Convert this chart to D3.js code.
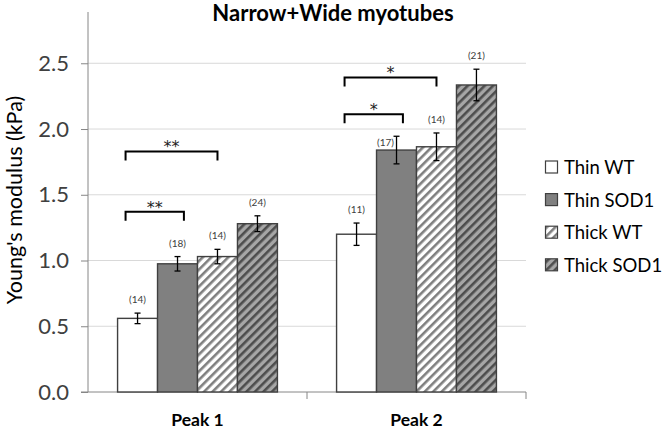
<!DOCTYPE html>
<html><head><meta charset="utf-8">
<script src="https://cdn.jsdelivr.net/npm/d3@7"></script>
<style>body{margin:0;background:#fff}svg{display:block}</style>
</head><body>
<svg id="c" width="666" height="430"></svg>
<script>
const categories = ["Peak 1", "Peak 2"];
const seriesNames = ["Thin WT", "Thin SOD1", "Thick WT", "Thick SOD1"];
const thinWT = [0.56, 1.20];
const thinSOD1 = [0.975, 1.84];
const thickWT = [1.03, 1.865];
const thickSOD1 = [1.28, 2.335];
const errThinWT = [0.04, 0.085];
const errThinSOD1 = [0.055, 0.105];
const errThickWT = [0.055, 0.105];
const errThickSOD1 = [0.06, 0.12];
const nThinWT = [14, 11];
const nThinSOD1 = [18, 17];
const nThickWT = [14, 14];
const nThickSOD1 = [24, 21];
const yTicks = [0, 0.5, 1.0, 1.5, 2.0, 2.5];
const brackets = [
  {cat: 0, from: 0, to: 1, y: 1.37, label: "**"},
  {cat: 0, from: 0, to: 2, y: 1.83, label: "**"},
  {cat: 1, from: 0, to: 1, y: 2.113, label: "*"},
  {cat: 1, from: 0, to: 2, y: 2.392, label: "*"}
];

const values = [thinWT, thinSOD1, thickWT, thickSOD1];
const errs = [errThinWT, errThinSOD1, errThickWT, errThickSOD1];
const ns = [nThinWT, nThinSOD1, nThickWT, nThickSOD1];

const FONT = "Lato, 'Open Sans', sans-serif";
const svg = d3.select("#c");
const L = 88, R = 526, T = 12, B = 392;

// patterns
const defs = svg.append("defs");
function hatch(id, bg, fg) {
  const p = defs.append("pattern").attr("id", id).attr("patternUnits", "userSpaceOnUse")
    .attr("width", 6).attr("height", 6).attr("patternTransform", "rotate(45)");
  p.append("rect").attr("width", 6).attr("height", 6).attr("fill", bg);
  p.append("rect").attr("x", 0).attr("width", 2.6).attr("height", 6).attr("fill", fg);
}
hatch("hWT", "#ffffff", "#7f7f7f");
hatch("hSOD", "#a6a6a6", "#4d4d4d");
const fills = ["#ffffff", "#808080", "url(#hWT)", "url(#hSOD)"];

const y = d3.scaleLinear().domain([0, 2.89]).range([B, T]);
const x0 = d3.scaleBand().domain(categories).range([L, R]).paddingInner(0).paddingOuter(0);
const x1 = d3.scaleBand().domain(seriesNames).range([0, x0.bandwidth()]).paddingOuter(0.74).paddingInner(0);

// gridlines
svg.append("g").selectAll("line").data(yTicks.filter(d => d > 0)).join("line")
  .attr("x1", L).attr("x2", R).attr("y1", d => y(d)).attr("y2", d => y(d))
  .attr("stroke", "#d9d9d9").attr("stroke-width", 1);

// y axis
const ya = svg.append("g").attr("transform", `translate(${L},0)`)
  .call(d3.axisLeft(y).tickValues(yTicks).tickFormat(d3.format(".1f")).tickSize(7).tickPadding(12));
ya.select(".domain").remove();
ya.append("line").attr("x1", 0).attr("x2", 0).attr("y1", T).attr("y2", B).attr("stroke", "#868686");
ya.selectAll(".tick line").attr("stroke", "#868686");
ya.selectAll(".tick text").attr("font-family", FONT).attr("font-size", 22).attr("fill", "#404040");

// x axis
const xa = svg.append("g").attr("transform", `translate(0,${B})`)
  .call(d3.axisBottom(x0).tickSize(0).tickPadding(22));
xa.select(".domain").remove();
xa.append("line").attr("x1", L - 7).attr("x2", R).attr("y1", 0).attr("y2", 0).attr("stroke", "#868686");
xa.selectAll(".bnd").data([L + x0.bandwidth(), R]).join("line")
  .attr("x1", d => d).attr("x2", d => d).attr("y1", 0).attr("y2", 7).attr("stroke", "#868686");
xa.selectAll(".tick text").attr("font-family", FONT).attr("font-size", 17.5).attr("font-weight", "bold").attr("fill", "#000");

// bars
seriesNames.forEach((s, si) => {
  const g = svg.append("g");
  categories.forEach((c, ci) => {
    const v = values[si][ci], e = errs[si][ci];
    const bx = x0(c) + x1(s), bw = x1.bandwidth();
    g.append("rect").attr("x", bx).attr("y", y(v)).attr("width", bw).attr("height", y(0) - y(v))
      .attr("fill", fills[si]).attr("stroke", "#404040").attr("stroke-width", 1.4);
    const cx = bx + bw / 2;
    g.append("line").attr("x1", cx).attr("x2", cx).attr("y1", y(v + e)).attr("y2", y(v - e)).attr("stroke", "#000").attr("stroke-width", 1.3);
    [v + e, v - e].forEach(t => g.append("line").attr("x1", cx - 3).attr("x2", cx + 3).attr("y1", y(t)).attr("y2", y(t)).attr("stroke", "#000").attr("stroke-width", 1.3));
    // n label
    let lx = cx, ly = y(v + e) - 10;
    if (si === 1 && ci === 1) { lx = cx - 11; ly = y(v) - 4; }
    g.append("text").attr("x", lx).attr("y", ly).attr("text-anchor", "middle")
      .attr("font-family", FONT).attr("font-size", 10).attr("fill", "#404040").text(`(${ns[si][ci]})`);
  });
});

// significance brackets
brackets.forEach(b => {
  const c = categories[b.cat], bw = x1.bandwidth();
  const xs = x0(c) + x1(seriesNames[b.from]) + bw * 0.2;
  const xe = x0(c) + x1(seriesNames[b.to]) + bw * (b.to === 1 ? 0.66 : 0.5);
  const yy = y(b.y);
  svg.append("path").attr("d", `M${xs},${yy + 9}V${yy}H${xe}V${yy + 9}`)
    .attr("fill", "none").attr("stroke", "#000").attr("stroke-width", 2);
  svg.append("text").attr("x", (xs + xe) / 2).attr("y", yy + 1).attr("text-anchor", "middle")
    .attr("font-family", "'DejaVu Sans', sans-serif").attr("font-size", 16).attr("fill", "#222").text(b.label);
});

// title
svg.append("text").attr("x", 333).attr("y", 21).attr("text-anchor", "middle")
  .attr("font-family", FONT).attr("font-size", 22).attr("font-weight", "bold").text("Narrow+Wide myotubes");

// y title
svg.append("text").attr("transform", "translate(22,200) rotate(-90)").attr("text-anchor", "middle")
  .attr("font-family", FONT).attr("font-size", 21.5).attr("fill", "#000").text("Young's modulus (kPa)");

// legend
const lg = svg.append("g");
seriesNames.forEach((s, i) => {
  const cy = 167 + i * 32.6;
  lg.append("rect").attr("x", 545.5).attr("y", cy - 6).attr("width", 12).attr("height", 12)
    .attr("fill", fills[i]).attr("stroke", "#404040").attr("stroke-width", 1.2);
  lg.append("text").attr("x", 564).attr("y", cy + 7).attr("font-family", FONT).attr("font-size", 18.5)
    .attr("fill", "#000").text(s);
});
</script>
</body></html>
